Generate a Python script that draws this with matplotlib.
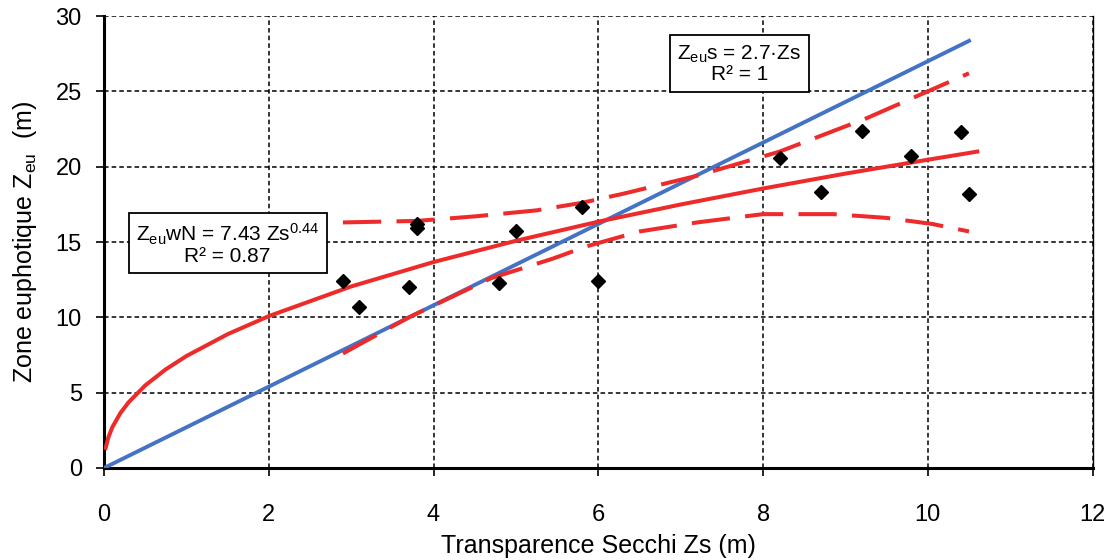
import matplotlib.pyplot as plt

plt.rcParams['font.family'] = ['Liberation Sans', 'DejaVu Sans']
plt.rcParams['mathtext.default'] = 'regular'

# ===== Data =====
# measured points (Secchi depth vs euphotic depth)
zs_obs = [2.9, 3.1, 3.7, 3.8, 3.8, 4.8, 5.0, 5.8, 6.0, 8.2, 8.7, 9.2, 9.8, 10.4, 10.5]
zeu_obs = [12.4, 10.7, 12.0, 16.2, 15.9, 12.3, 15.7, 17.3, 12.4, 20.6, 18.3, 22.4, 20.7, 22.3, 18.2]

# blue line Zeu s = 2.7 Zs
zs_lin = [0.0, 10.5]
zeu_lin = [0.0, 28.35]

# red power fit Zeu wN = 7.43 Zs^0.44
zs_fit = [0.02, 0.05, 0.1, 0.2, 0.3, 0.5, 0.75, 1, 1.5, 2, 3, 4, 5, 6, 7, 8, 9, 10, 10.6]
zeu_fit = [1.33, 1.99, 2.70, 3.66, 4.37, 5.48, 6.55, 7.43, 8.88, 10.08, 12.05, 13.67,
           15.08, 16.35, 17.49, 18.55, 19.54, 20.46, 21.0]

# dashed confidence bands
zs_up = [2.9, 3.8, 4.5, 5.25, 5.8, 6.3, 7.2, 8.2, 9.25, 10.5]
zeu_up = [16.3, 16.4, 16.7, 17.1, 17.6, 18.2, 19.4, 21.0, 23.2, 26.2]
zs_lo = [2.9, 3.7, 4.7, 5.45, 5.85, 6.5, 7.2, 8.0, 8.85, 9.5, 10.05, 10.5]
zeu_lo = [7.6, 10.0, 12.6, 13.9, 14.7, 15.7, 16.3, 16.85, 16.85, 16.6, 16.2, 15.7]

blue = '#4472C4'
red = '#EE2B2B'

# ===== Plot =====
fig = plt.figure(figsize=(11.15, 5.6), dpi=100)
ax = fig.add_axes([0.0933, 0.1643, 0.8866, 0.8071])

ax.plot(zs_lin, zeu_lin, color=blue, lw=2.8, zorder=3)
ax.plot(zs_fit, zeu_fit, color=red, lw=2.9, zorder=4)
ax.plot(zs_up, zeu_up, color=red, lw=2.9, ls=(0, (9.5, 3.8)), zorder=4)
ax.plot(zs_lo, zeu_lo, color=red, lw=2.9, ls=(0, (9.5, 3.8)), zorder=4)
ax.plot(zs_obs, zeu_obs, ls='none', marker='D', color='black', ms=7.5, zorder=5)

ax.set_xlim(0, 12)
ax.set_ylim(0, 30)
ax.set_xticks(range(0, 13, 2))
ax.set_yticks(range(0, 31, 5))
ax.grid(True, color='black', ls=(0, (3, 2)), lw=1.1)
ax.tick_params(direction='out', length=6, width=1.2, labelsize=17, color='black')
ax.tick_params(axis='x', pad=20)
ax.tick_params(axis='y', pad=10)

for s in ['left', 'bottom']:
    ax.spines[s].set_linewidth(2.2)
ax.spines['top'].set_visible(False)
ax.spines['right'].set_linewidth(1.0)

ax.set_xlabel('Transparence Secchi Zs (m)', fontsize=18, labelpad=6)
ax.set_ylabel('Zone euphotique Z$_{eu}$  (m)', fontsize=18, labelpad=12)

box = dict(boxstyle='square,pad=0.35', fc='white', ec='black', lw=1.3)
ax.text(7.71, 26.8, 'Z$_{eu}$s = 2.7·Zs\nR² = 1', fontsize=15, ha='center', va='center',
        linespacing=1.0, bbox=box, zorder=6)
ax.text(1.5, 14.9, 'Z$_{eu}$wN = 7.43 Zs$^{0.44}$\nR² = 0.87', fontsize=15, ha='center',
        va='center', linespacing=1.0, bbox=box, zorder=6)

plt.savefig('out.png', dpi=100)
